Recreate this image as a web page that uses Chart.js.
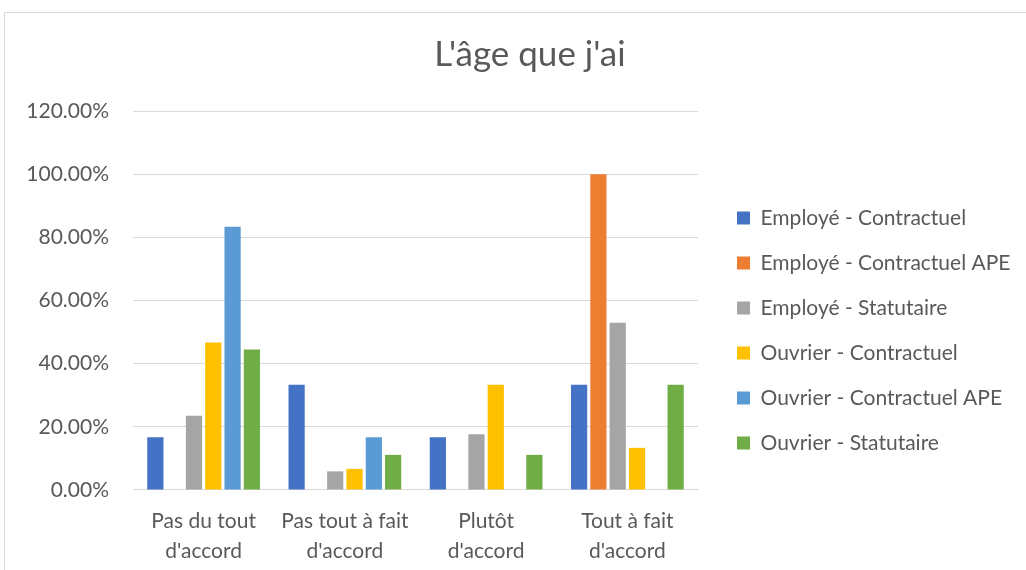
<!DOCTYPE html>
<html>
<head>
<meta charset="utf-8">
<script src="https://cdn.jsdelivr.net/npm/chart.js@4.4.1/dist/chart.umd.min.js"></script>
<style>
  html, body { margin: 0; padding: 0; background: #fff; overflow: hidden; }
  #wrap {
    position: absolute; left: 4px; top: 12px;
    width: 1100px; height: 580px;
    border-left: 1px solid #d9d9d9; border-top: 1px solid #d9d9d9;
  }
</style>
</head>
<body>
<div id="wrap"><canvas id="ageChart" width="1100" height="574"></canvas></div>
<script>
// categories and series
var categories = [["Pas du tout", "d'accord"], ["Pas tout à fait", "d'accord"], ["Plutôt", "d'accord"], ["Tout à fait", "d'accord"]];
var seriesNames = ["Employé - Contractuel", "Employé - Contractuel APE", "Employé - Statutaire", "Ouvrier - Contractuel", "Ouvrier - Contractuel APE", "Ouvrier - Statutaire"];
var employeContractuel = [0.1667, 0.3333, 0.1667, 0.3333];
var employeContractuelAPE = [0, 0, 0, 1.0];
var employeStatutaire = [0.2353, 0.0588, 0.1765, 0.5294];
var ouvrierContractuel = [0.4667, 0.0667, 0.3333, 0.1333];
var ouvrierContractuelAPE = [0.8333, 0.1667, 0, 0];
var ouvrierStatutaire = [0.4444, 0.1111, 0.1111, 0.3333];
var colors = ["#4472C4", "#ED7D31", "#A5A5A5", "#FFC000", "#5B9BD5", "#70AD47"];

var allSeries = [employeContractuel, employeContractuelAPE, employeStatutaire, ouvrierContractuel, ouvrierContractuelAPE, ouvrierStatutaire];
var textColor = "#595959";
var fontFamily = "Lato, 'Open Sans', sans-serif";
var padLeft = 19;
var legendWidth = 323;

// chart.js caps a side legend at a fraction of the width, force ours
var legendWidthPlugin = {
  id: "legendWidth",
  beforeUpdate: function (chart) {
    var lg = chart.legend;
    if (lg && !lg._wideFit) {
      var fit = lg.fit;
      lg.fit = function () {
        fit.call(this);
        this.width = legendWidth;
      };
      lg._wideFit = true;
    }
  }
};

var ctx = document.getElementById("ageChart");
var myChart = new Chart(ctx, {
  type: "bar",
  data: {
    labels: categories,
    datasets: allSeries.map(function (vals, i) {
      return {
        label: seriesNames[i],
        data: vals,
        backgroundColor: colors[i],
        borderWidth: 0,
        categoryPercentage: 0.82,
        barPercentage: 0.84
      };
    })
  },
  plugins: [legendWidthPlugin],
  options: {
    responsive: false,
    animation: false,
    layout: { padding: { left: padLeft, right: 69, top: 0, bottom: 5 } },
    plugins: {
      title: {
        display: true,
        text: "L'âge que j'ai",
        color: textColor,
        font: { family: fontFamily, size: 35, weight: "normal", lineHeight: 1.2 },
        padding: { top: 21, bottom: 35 }
      },
      legend: {
        position: "right",
        // blank title only pushes the items down
        title: { display: true, text: " ", font: { size: 10, lineHeight: 1.2 }, padding: { top: 0, bottom: 54 } },
        labels: {
          color: textColor,
          font: { family: fontFamily, size: 21 },
          boxWidth: 13,
          boxHeight: 13,
          padding: 24
        }
      },
      tooltip: { enabled: false }
    },
    scales: {
      x: {
        grid: { display: false, drawTicks: false },
        border: { color: "#d9d9d9" },
        ticks: {
          color: textColor,
          font: { family: fontFamily, size: 21, lineHeight: 1.43 },
          maxRotation: 0,
          autoSkip: false,
          padding: 16
        }
      },
      y: {
        min: 0,
        max: 1.2,
        grid: { color: "#d9d9d9", drawTicks: false },
        border: { display: false },
        ticks: {
          stepSize: 0.2,
          color: textColor,
          font: { family: fontFamily, size: 21 },
          padding: 24,
          callback: function (v) { return (v * 100).toFixed(2) + "%"; }
        },
        afterFit: function (scale) { scale.width = 128 - padLeft; }
      },
      // empty axis, keeps a gap between plot and legend
      gap: {
        type: "linear",
        position: "right",
        grid: { display: false },
        border: { display: false },
        ticks: { display: false },
        afterFit: function (scale) { scale.width = 15; }
      }
    }
  }
});
</script>
</body>
</html>
